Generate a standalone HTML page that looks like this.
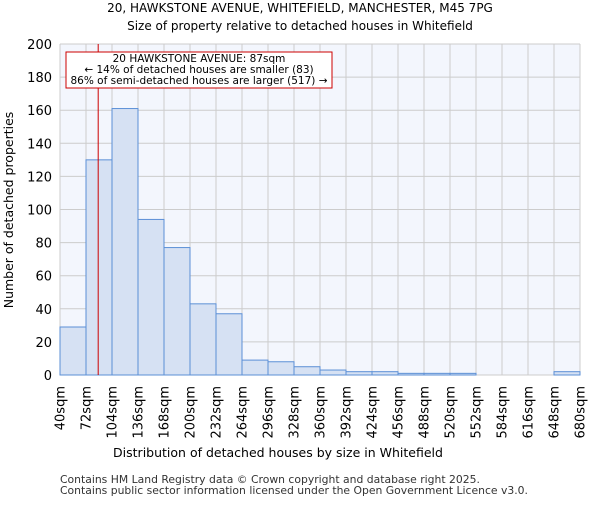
<!DOCTYPE html>
<html><head><meta charset="utf-8"><style>
body{margin:0;background:#fff;font-family:"Liberation Sans","DejaVu Sans",sans-serif;}
</style></head><body>
<svg width="600" height="500" xmlns="http://www.w3.org/2000/svg" font-family="DejaVu Sans, Liberation Sans, sans-serif">
<text x="300" y="12" text-anchor="middle" font-size="12">20, HAWKSTONE AVENUE, WHITEFIELD, MANCHESTER, M45 7PG</text>
<text x="300" y="30" text-anchor="middle" font-size="12">Size of property relative to detached houses in Whitefield</text>
<rect x="60" y="44" width="520" height="331" fill="#f3f6fd"/>
<g id="grid"></g>
<g id="bars"></g>
<g id="yticks"></g>
<g id="xticks"></g>
<line id="marker" stroke="#cc0000" stroke-width="1"/>
<rect x="66" y="52" width="266" height="36" fill="#fff" stroke="#cc0000" stroke-width="1"/>
<text x="199" y="62" text-anchor="middle" font-size="10.5">20 HAWKSTONE AVENUE: 87sqm</text>
<text x="199" y="73" text-anchor="middle" font-size="10.5">← 14% of detached houses are smaller (83)</text>
<text x="199" y="84" text-anchor="middle" font-size="10.5">86% of semi-detached houses are larger (517) →</text>
<text x="278" y="457" text-anchor="middle" font-size="12.5">Distribution of detached houses by size in Whitefield</text>
<text transform="translate(13,210) rotate(-90)" text-anchor="middle" font-size="12.5">Number of detached properties</text>
<text x="60" y="483" font-size="10.8" fill="#333">Contains HM Land Registry data © Crown copyright and database right 2025.</text>
<text x="60" y="494" font-size="10.8" fill="#333">Contains public sector information licensed under the Open Government Licence v3.0.</text>
</svg>
<script>
const binStarts=[40,72,104,136,168,200,232,264,296,328,360,392,424,456,488,520,552,584,616,648];
const counts=[29,130,161,94,77,43,37,9,8,5,3,2,2,1,1,1,0,0,0,2];
const xTickLabels=[40,72,104,136,168,200,232,264,296,328,360,392,424,456,488,520,552,584,616,648,680];
const yTickValues=[0,20,40,60,80,100,120,140,160,180,200];
const propertySize=87;
const NS="http://www.w3.org/2000/svg";
const x=v=>60+(v-40)/(680-40)*520;
const y=v=>375-v/200*331;
function mk(t,a,p){const e=document.createElementNS(NS,t);for(const k in a)e.setAttribute(k,a[k]);p.appendChild(e);return e;}
const grid=document.getElementById('grid'),bars=document.getElementById('bars'),yt=document.getElementById('yticks'),xt=document.getElementById('xticks');
yTickValues.forEach(v=>{
 const l=mk('line',{x1:60,x2:580,y1:y(v),y2:y(v),stroke:'#cccccc','stroke-width':1},grid);
 
 
 const t=mk('text',{x:52,y:y(v)+5,'text-anchor':'end','font-size':13},yt);
 t.textContent=v;
 
 
});
xTickLabels.forEach(v=>{
 const l=mk('line',{x1:x(v),x2:x(v),y1:44,y2:375,stroke:'#cccccc','stroke-width':1},grid);
 
 
 const t=mk('text',{transform:`translate(${x(v)+4.5},386) rotate(-90)`,'text-anchor':'end','font-size':13},xt);
 t.textContent=v+'sqm';
 
 
});
binStarts.forEach((s,i)=>{
 const x0=x(s),x1=x(s+32),h=375-y(counts[i]);
 const r=mk('rect',{x:x0,y:y(counts[i]),width:x1-x0,height:h,fill:'#d6e1f3',stroke:'#5b8fd6','stroke-width':1},bars);
 
 
});
const m=document.getElementById('marker');
m.setAttribute('x1',x(propertySize));m.setAttribute('x2',x(propertySize));m.setAttribute('y1',44);m.setAttribute('y2',375);
</script>
</body></html>
